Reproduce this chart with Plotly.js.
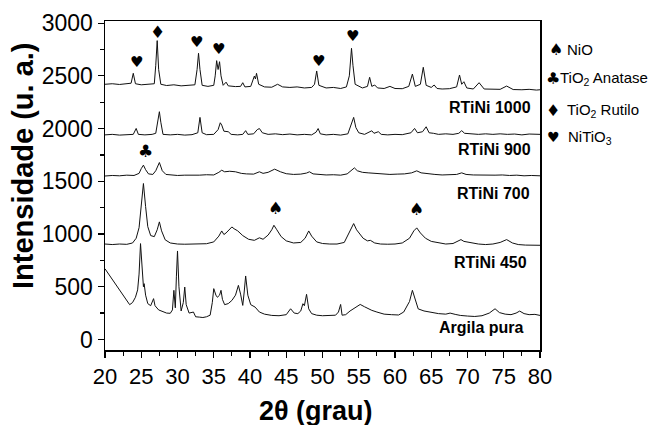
<!DOCTYPE html>
<html>
<head>
<meta charset="utf-8">
<script src="https://cdn.plot.ly/plotly-3.0.1.min.js"></script>
<style>html,body{margin:0;padding:0;background:#fff}#chart{width:652px;height:425px}</style>
</head>
<body>
<div id="chart"></div>
<script>
// XRD patterns [2theta, intensity]
const rtini1000 = [[20,2420],[21,2425],[22,2418],[23,2422],[23.6,2430],[23.9,2524],[24.2,2425],[25,2415],[26,2420],[26.8,2425],[27.0,2600],[27.2,2834],[27.4,2560],[27.7,2420],[28.5,2408],[29.5,2415],[30.5,2405],[31.5,2410],[32.4,2415],[32.7,2560],[32.9,2714],[33.1,2560],[33.4,2410],[34.2,2400],[35.0,2410],[35.2,2500],[35.4,2644],[35.6,2560],[35.8,2634],[36.0,2500],[36.3,2410],[36.7,2440],[37.0,2405],[38.0,2398],[38.7,2400],[39.0,2435],[39.3,2395],[40.1,2400],[40.6,2498],[40.75,2470],[40.9,2524],[41.2,2420],[42.0,2395],[43.0,2392],[43.8,2420],[44.5,2395],[45.5,2390],[46.5,2395],[47.5,2385],[48.5,2390],[48.9,2420],[49.2,2546],[49.5,2410],[50.5,2385],[51.5,2390],[52.5,2380],[53.3,2395],[53.7,2500],[53.85,2650],[54.0,2761],[54.2,2600],[54.5,2420],[55.5,2385],[56.2,2400],[56.5,2486],[56.8,2400],[57.2,2413],[57.6,2385],[58.5,2380],[59.3,2400],[60.0,2380],[61.0,2378],[61.9,2400],[62.4,2517],[62.8,2400],[63.5,2420],[63.9,2581],[64.3,2410],[65.0,2390],[65.4,2413],[65.8,2380],[66.5,2375],[67.5,2378],[68.5,2395],[68.9,2508],[69.2,2420],[69.5,2444],[69.9,2385],[70.8,2375],[71.6,2435],[72.3,2375],[73.5,2370],[74.5,2372],[75.4,2403],[76.3,2370],[77.5,2368],[78.5,2372],[79.5,2365],[80,2368]];
const rtini900 = [[20,1940],[21,1945],[22,1938],[23,1942],[23.9,1945],[24.3,2001],[24.6,1945],[25.5,1940],[26.5,1945],[27.0,1955],[27.3,2060],[27.5,2160],[27.7,2060],[28.0,1945],[29,1940],[30,1945],[31,1938],[32,1942],[32.8,1960],[33.1,2106],[33.4,1960],[34,1942],[35,1945],[35.6,1990],[35.9,2055],[36.1,2033],[36.4,1975],[37.0,1970],[37.4,1945],[38.3,1940],[39.0,1945],[39.4,1980],[39.7,1945],[40.5,1950],[41.0,1990],[41.3,2000],[41.7,1960],[42.5,1945],[43.5,1950],[44.5,1942],[45.5,1948],[46.5,1940],[47.5,1945],[48.5,1940],[49.1,1965],[49.4,2000],[49.7,1950],[50.5,1940],[51.5,1945],[52.5,1938],[53.5,1950],[54.0,2040],[54.3,2106],[54.6,2010],[55.0,1960],[55.8,1945],[56.5,1965],[56.8,1979],[57.1,1955],[57.7,1970],[58.1,1945],[59,1940],[60,1945],[61,1942],[62.2,1960],[62.7,2001],[63.1,1960],[63.8,1970],[64.3,2017],[64.7,1960],[65.3,1955],[66,1945],[67,1950],[68,1945],[68.8,1955],[69.2,1980],[69.6,1955],[70.5,1950],[71.5,1945],[72.5,1950],[73.5,1945],[74.5,1950],[75.5,1945],[76.5,1948],[77.5,1940],[78.5,1948],[79.5,1942],[80,1945]];
const rtini700 = [[20,1550],[21,1555],[22,1552],[23,1558],[24,1555],[24.7,1575],[25.0,1620],[25.3,1653],[25.6,1610],[26.0,1570],[26.6,1565],[27.0,1600],[27.5,1678],[27.9,1600],[28.4,1565],[29,1560],[30,1555],[31,1558],[32,1555],[33,1558],[34,1562],[35,1560],[35.7,1585],[36.1,1605],[36.5,1590],[37.2,1595],[38.0,1590],[38.8,1575],[39.5,1570],[40.5,1568],[41.3,1590],[41.8,1575],[42.5,1585],[43.4,1615],[44.2,1590],[45,1572],[46,1565],[47,1568],[47.8,1578],[48.2,1590],[48.7,1570],[49.5,1565],[50.5,1560],[51.5,1562],[52.5,1558],[53.4,1570],[54.0,1605],[54.4,1627],[54.8,1600],[55.5,1585],[56.3,1580],[57.3,1575],[58.3,1568],[59.3,1565],[60.3,1568],[61.3,1570],[62.3,1580],[63.0,1599],[63.6,1580],[64.5,1570],[65.5,1565],[66.5,1560],[67.5,1562],[68.5,1565],[69.2,1580],[69.8,1565],[70.8,1560],[71.8,1558],[72.8,1562],[73.8,1558],[74.8,1560],[75.8,1555],[76.8,1558],[77.8,1552],[78.8,1555],[80,1552]];
const rtini450 = [[20,905],[21,900],[22,905],[23,902],[23.8,915],[24.3,960],[24.7,1060],[25.0,1250],[25.3,1479],[25.6,1260],[25.9,1070],[26.3,985],[26.8,975],[27.2,1040],[27.5,1115],[27.8,1030],[28.3,945],[29,915],[30,905],[31,903],[32,905],[33,902],[34,908],[35,925],[35.7,980],[36.1,1029],[36.4,995],[36.7,1010],[37.2,1050],[37.5,1067],[37.8,1050],[38.3,1030],[39,985],[39.8,950],[40.6,940],[41.3,964],[41.8,950],[42.5,990],[43.0,1040],[43.3,1083],[43.7,1040],[44.3,975],[45,935],[46,915],[47,920],[47.6,960],[48.1,1029],[48.5,980],[49.2,925],[50,910],[51,905],[52,905],[53,920],[53.7,1010],[54.3,1099],[54.7,1040],[55.0,1016],[55.6,960],[56.2,935],[56.6,940],[57.2,915],[58,905],[59,903],[60,905],[61,915],[62,960],[62.6,1030],[63.0,1058],[63.5,1010],[64.2,960],[65,930],[66,915],[67,905],[68,910],[68.7,930],[69.1,947],[69.5,930],[70.5,915],[71.5,905],[72.5,900],[73.5,905],[74.5,920],[75.4,947],[76.2,915],[77,900],[78,895],[79,893],[80,893]];
const argila = [[20,670],[20.3,640],[20.7,600],[21.1,560],[21.5,520],[22.0,470],[22.5,420],[23.0,370],[23.4,330],[23.8,350],[24.2,400],[24.5,470],[24.7,620],[24.9,909],[25.1,700],[25.3,500],[25.4,529],[25.6,420],[25.9,340],[26.3,320],[26.7,387],[26.9,320],[27.4,280],[28,260],[28.5,250],[29.0,248],[29.3,280],[29.5,466],[29.7,300],[29.85,600],[30.0,839],[30.2,500],[30.5,270],[30.8,350],[31.0,497],[31.2,330],[31.6,250],[32.2,260],[32.5,215],[33,212],[33.5,208],[34,215],[34.5,230],[34.8,350],[35.0,482],[35.3,420],[35.5,400],[35.8,420],[36.0,466],[36.2,380],[36.5,330],[37,340],[37.5,370],[38.0,420],[38.4,513],[38.7,430],[39.0,323],[39.2,450],[39.4,602],[39.7,420],[40.1,330],[40.7,307],[41.3,260],[42,240],[43,228],[44,225],[45,235],[45.6,291],[46.1,250],[46.6,245],[47.0,270],[47.3,339],[47.5,320],[47.8,428],[48.1,290],[48.5,245],[49.2,230],[50,225],[51,228],[51.8,230],[52.2,260],[52.5,332],[52.7,230],[53.2,235],[53.8,270],[54.5,305],[55.2,332],[55.8,310],[56.3,290],[56.8,276],[57.5,260],[58.5,240],[59.5,235],[60.5,232],[61.2,260],[61.6,307],[62.0,360],[62.4,466],[62.8,370],[63.2,290],[64,270],[65,255],[66,245],[67,240],[67.6,250],[68.3,238],[69,228],[70,222],[71,218],[72,225],[73,250],[73.8,291],[74.4,255],[75.2,240],[76,235],[76.7,250],[77.2,269],[77.8,245],[78.5,235],[79.3,238],[80,228]];

const seriesNames = ["RTiNi 1000","RTiNi 900","RTiNi 700","RTiNi 450","Argila pura"];
const seriesData = [rtini1000, rtini900, rtini700, rtini450, argila];

// phase markers [2theta, intensity, symbol]
const phaseMarks = [[24.3,2630,"\u2665"],[27.2,2920,"\u2666"],[32.6,2820,"\u2665"],[35.6,2755,"\u2665"],[49.4,2640,"\u2665"],[54.2,2875,"\u2665"],[25.6,1790,"\u2663"],[43.5,1250,"\u2660"],[63.0,1235,"\u2660"]];

const legendItems = [["\u2660","NiO"],["\u2663","TiO<sub>2</sub> Anatase"],["\u2666","TiO<sub>2</sub> Rutilo"],["\u2665","NiTiO<sub>3</sub>"]];

const xTickVals = [20,25,30,35,40,45,50,55,60,65,70,75,80];
const yTickVals = [0,500,1000,1500,2000,2500,3000];

const traces = seriesData.map((d,i)=>({
  x: d.map(p=>p[0]), y: d.map(p=>p[1]), name: seriesNames[i],
  type:'scatter', mode:'lines', line:{color:'#111', width:1}, showlegend:false, hoverinfo:'skip'
}));

const W=652,H=425,L=105,R=112,T=21,B=75;
const pw=W-L-R, ph=H-T-B;
const px=(x)=>(x-L)/pw, py=(y)=>(H-B-y)/ph;

const ann = [];
const labelPos = [[533,107],[533,149],[532,193],[529,262],[526,327]];
seriesNames.forEach((n,i)=>ann.push({xref:'paper',yref:'paper',x:px(labelPos[i][0]),y:py(labelPos[i][1]),xanchor:'right',yanchor:'middle',text:'<b>'+n+'</b>',showarrow:false,font:{family:'Arial, Liberation Sans',size:16,color:'#000'}}));
phaseMarks.forEach(m=>ann.push({xref:'x',yref:'y',x:m[0],y:m[1],text:m[2],showarrow:false,xanchor:'center',yanchor:'middle',font:{family:'DejaVu Sans',size:(m[2]==="\u2665"?15:17),color:'#000'}}));
const legY=[49,78,110,137];
const legSymX=[556,553,553,553];
const legTxtX=[565,558,565,566];
legendItems.forEach((it,i)=>{
  ann.push({xref:'paper',yref:'paper',x:px(legSymX[i]),y:py(legY[i]),text:it[0],showarrow:false,xanchor:'center',yanchor:'middle',font:{family:'DejaVu Sans',size:(it[0]==="\u2665"?14:16),color:'#000'}});
  ann.push({xref:'paper',yref:'paper',x:px(legTxtX[i]),y:py(legY[i]),text:it[1],showarrow:false,xanchor:'left',yanchor:'middle',font:{family:'Arial, Liberation Sans',size:15,color:'#000'}});
});
ann.push({xref:'paper',yref:'paper',x:px(23),y:py(166),text:'<b>Intensidade (u. a.)</b>',textangle:-90,showarrow:false,xanchor:'center',yanchor:'middle',font:{family:'Arial, Liberation Sans',size:29,color:'#000'}});
ann.push({xref:'paper',yref:'paper',x:px(316),y:py(411),text:'<b>2\u03b8 (grau)</b>',showarrow:false,xanchor:'center',yanchor:'middle',font:{family:'Arial, Liberation Sans',size:27,color:'#000'}});

const layout = {
  width:W, height:H, margin:{l:L,r:R,t:T,b:B,pad:0},
  paper_bgcolor:'#fff', plot_bgcolor:'#fff', showlegend:false,
  font:{family:'Arial, Liberation Sans', color:'#000'},
  xaxis:{range:[20,80], tickvals:xTickVals, ticks:'outside', ticklen:6, tickwidth:1.2, tickcolor:'#000',
    minor:{dtick:2.5, tick0:20, ticks:'outside', ticklen:4, tickcolor:'#000', tickwidth:1.2},
    showline:true, mirror:true, linecolor:'#000', linewidth:1.5, showgrid:false, zeroline:false,
    tickfont:{size:22, family:'Arial, Liberation Sans', color:'#000'}},
  yaxis:{range:[-100,3020], tickvals:yTickVals, ticks:'outside', ticklen:6, tickwidth:1.2, tickcolor:'#000',
    minor:{dtick:250, tick0:0, ticks:'outside', ticklen:4, tickcolor:'#000', tickwidth:1.2},
    showline:true, mirror:true, linecolor:'#000', linewidth:1.5, showgrid:false, zeroline:false,
    tickfont:{size:23, family:'Arial, Liberation Sans', color:'#000'}},
  annotations: ann
};
Plotly.newPlot('chart', traces, layout, {staticPlot:true, displayModeBar:false});
</script>
</body>
</html>
